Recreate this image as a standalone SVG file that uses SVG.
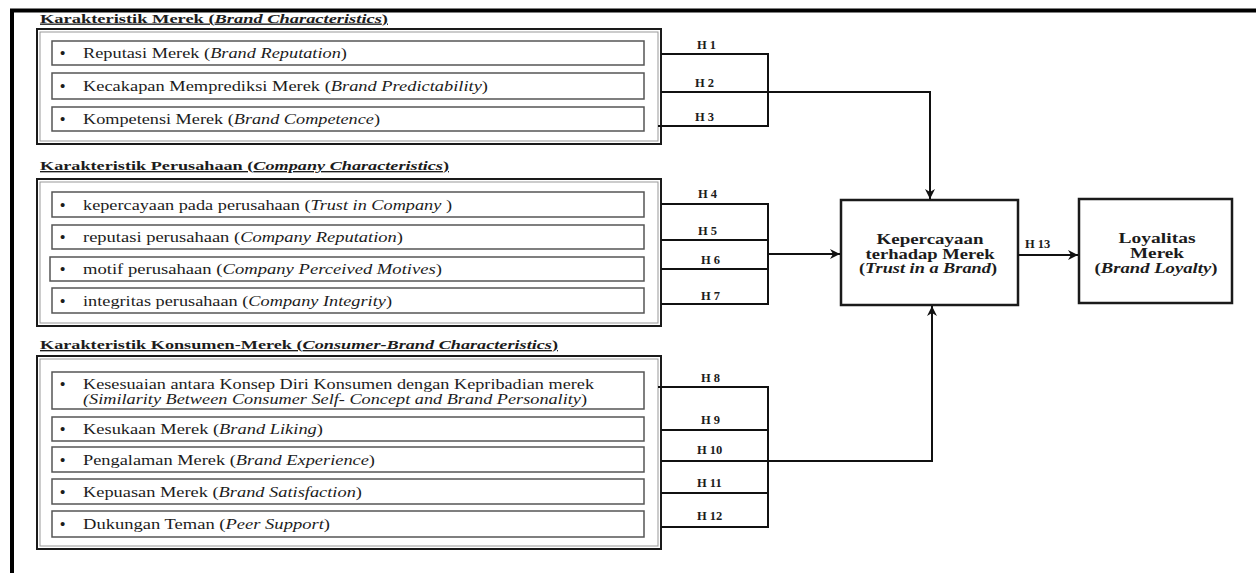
<svg xmlns="http://www.w3.org/2000/svg" width="1256" height="573" viewBox="0 0 1256 573">
<defs>
<marker id="arr" viewBox="0 0 10 10" refX="10" refY="5" markerWidth="10" markerHeight="10" markerUnits="userSpaceOnUse" orient="auto">
<path d="M0,0 L10,5 L0,10 L3,5 Z" fill="#111"/>
</marker>
</defs>
<style>
text{font-family:"Liberation Serif","Times New Roman",serif;fill:#1c1c1c}
.head{font-size:13.5px;font-weight:bold;text-decoration:underline}
.item{font-size:14px}
.bul{font-size:15px;font-weight:bold}
.it{font-style:italic}
.h{font-size:12.5px;font-weight:bold}
.big{font-size:15px;font-weight:bold;text-anchor:middle}
.sec{fill:#fff;stroke:#1a1a1a;stroke-width:2}
.secin{fill:none;stroke:#999;stroke-width:1}
.box{fill:#fff;stroke:#555;stroke-width:1.5}
.node{fill:#fff;stroke:#1a1a1a;stroke-width:2.5}
.con{fill:none;stroke:#111;stroke-width:2}
.frame{fill:none;stroke:#000;stroke-width:4}
</style>
<rect width="1256" height="573" fill="#fff"/>
<path class="frame" d="M12,573 L12,10.5 L1256,10.5"/>

<g id="brand-characteristics">
<text class="head" x="40" y="22.5" textLength="348" lengthAdjust="spacingAndGlyphs">Karakteristik Merek (<tspan class="it">Brand Characteristics</tspan>)</text>
<rect class="sec" x="37" y="29" width="624" height="115"/>
<rect class="secin" x="40" y="32" width="618" height="109"/>
<rect class="box" x="52" y="41" width="592" height="24"/>
<rect class="box" x="52" y="73" width="592" height="26"/>
<rect class="box" x="52" y="107" width="592" height="24"/>
<text class="bul" x="60" y="58">•</text>
<text class="item" x="83" y="58" textLength="264" lengthAdjust="spacingAndGlyphs">Reputasi Merek (<tspan class="it">Brand Reputation</tspan>)</text>
<text class="bul" x="60" y="91">•</text>
<text class="item" x="83" y="91" textLength="405" lengthAdjust="spacingAndGlyphs">Kecakapan Memprediksi Merek (<tspan class="it">Brand Predictability</tspan>)</text>
<text class="bul" x="60" y="124">•</text>
<text class="item" x="83" y="124" textLength="297" lengthAdjust="spacingAndGlyphs">Kompetensi Merek (<tspan class="it">Brand Competence</tspan>)</text>
</g>

<g id="company-characteristics">
<text class="head" x="40" y="170" textLength="409" lengthAdjust="spacingAndGlyphs">Karakteristik Perusahaan (<tspan class="it">Company Characteristics</tspan>)</text>
<rect class="sec" x="37" y="179" width="624" height="147"/>
<rect class="secin" x="40" y="182" width="618" height="141"/>
<rect class="box" x="52" y="192" width="592" height="25"/>
<rect class="box" x="52" y="225" width="592" height="24"/>
<rect class="box" x="50" y="257" width="594" height="24"/>
<rect class="box" x="52" y="288" width="592" height="25"/>
<text class="bul" x="60" y="209.5">•</text>
<text class="item" x="83" y="209.5" textLength="369" lengthAdjust="spacingAndGlyphs">kepercayaan pada perusahaan (<tspan class="it">Trust in Company </tspan>)</text>
<text class="bul" x="60" y="242">•</text>
<text class="item" x="83" y="242" textLength="320" lengthAdjust="spacingAndGlyphs">reputasi perusahaan (<tspan class="it">Company Reputation</tspan>)</text>
<text class="bul" x="60" y="274">•</text>
<text class="item" x="83" y="274" textLength="359" lengthAdjust="spacingAndGlyphs">motif perusahaan (<tspan class="it">Company Perceived Motives</tspan>)</text>
<text class="bul" x="60" y="305.5">•</text>
<text class="item" x="83" y="305.5" textLength="309" lengthAdjust="spacingAndGlyphs">integritas perusahaan (<tspan class="it">Company Integrity</tspan>)</text>
</g>

<g id="consumer-brand-characteristics">
<text class="head" x="40" y="349" textLength="518" lengthAdjust="spacingAndGlyphs">Karakteristik Konsumen-Merek (<tspan class="it">Consumer-Brand Characteristics</tspan>)</text>
<rect class="sec" x="37" y="356" width="624" height="193"/>
<rect class="secin" x="40" y="359" width="618" height="187"/>
<rect class="box" x="52" y="372" width="592" height="37"/>
<rect class="box" x="52" y="417" width="592" height="24"/>
<rect class="box" x="52" y="447" width="592" height="25"/>
<rect class="box" x="52" y="479" width="592" height="25"/>
<rect class="box" x="52" y="511" width="592" height="26"/>
<text class="bul" x="60" y="389">•</text>
<text class="item" x="83" y="389" textLength="511" lengthAdjust="spacingAndGlyphs">Kesesuaian antara Konsep Diri Konsumen dengan Kepribadian merek</text>
<text class="item it" x="83" y="403.5" textLength="504" lengthAdjust="spacingAndGlyphs">(Similarity Between Consumer Self- Concept and Brand Personality<tspan style="font-style:normal">)</tspan></text>
<text class="bul" x="60" y="434">•</text>
<text class="item" x="83" y="434" textLength="240" lengthAdjust="spacingAndGlyphs">Kesukaan Merek (<tspan class="it">Brand Liking</tspan>)</text>
<text class="bul" x="60" y="464.5">•</text>
<text class="item" x="83" y="464.5" textLength="292" lengthAdjust="spacingAndGlyphs">Pengalaman Merek (<tspan class="it">Brand Experience</tspan>)</text>
<text class="bul" x="60" y="496.5">•</text>
<text class="item" x="83" y="496.5" textLength="279" lengthAdjust="spacingAndGlyphs">Kepuasan Merek (<tspan class="it">Brand Satisfaction</tspan>)</text>
<text class="bul" x="60" y="529">•</text>
<text class="item" x="83" y="529" textLength="247" lengthAdjust="spacingAndGlyphs">Dukungan Teman (<tspan class="it">Peer Support</tspan>)</text>
</g>

<g id="trust-in-brand">
<rect class="node" x="841" y="200" width="177" height="105"/>
<text class="big" x="930" y="244" textLength="107" lengthAdjust="spacingAndGlyphs">Kepercayaan</text>
<text class="big" x="930" y="258.5" textLength="129" lengthAdjust="spacingAndGlyphs">terhadap Merek</text>
<text class="big" x="928" y="273" textLength="138" lengthAdjust="spacingAndGlyphs">(<tspan class="it">Trust in a Brand</tspan>)</text>
</g>

<g id="brand-loyalty">
<rect class="node" x="1079" y="199" width="153" height="104"/>
<text class="big" x="1157" y="243" textLength="77" lengthAdjust="spacingAndGlyphs">Loyalitas</text>
<text class="big" x="1157" y="257.5" textLength="54" lengthAdjust="spacingAndGlyphs">Merek</text>
<text class="big" x="1156" y="272.5" textLength="123" lengthAdjust="spacingAndGlyphs">(<tspan class="it">Brand Loyalty</tspan>)</text>
</g>

<g id="connectors">
<path class="con" d="M661,54 L768,54 L768,126 L658,126"/>
<path class="con" d="M661,92 L930,92 L930,199" marker-end="url(#arr)"/>
<path class="con" d="M661,204 L768,204 L768,304 L661,304"/>
<path class="con" d="M661,240 L768,240"/>
<path class="con" d="M661,269 L768,269"/>
<path class="con" d="M768,254 L840,254" marker-end="url(#arr)"/>
<path class="con" d="M658,387 L768,387 L768,527 L661,527"/>
<path class="con" d="M661,430 L768,430"/>
<path class="con" d="M661,493 L768,493"/>
<path class="con" d="M661,461 L932,461 L932,306" marker-end="url(#arr)"/>
<path class="con" d="M1018,255 L1078,255" marker-end="url(#arr)"/>
<text class="h" x="697" y="49">H 1</text>
<text class="h" x="695" y="87">H 2</text>
<text class="h" x="695" y="121">H 3</text>
<text class="h" x="698" y="198">H 4</text>
<text class="h" x="698" y="235">H 5</text>
<text class="h" x="701" y="264">H 6</text>
<text class="h" x="701" y="300">H 7</text>
<text class="h" x="701" y="382">H 8</text>
<text class="h" x="701" y="424">H 9</text>
<text class="h" x="697" y="454">H 10</text>
<text class="h" x="697" y="487">H 11</text>
<text class="h" x="697" y="520">H 12</text>
<text class="h" x="1025" y="248">H 13</text>
</g>
</svg>
